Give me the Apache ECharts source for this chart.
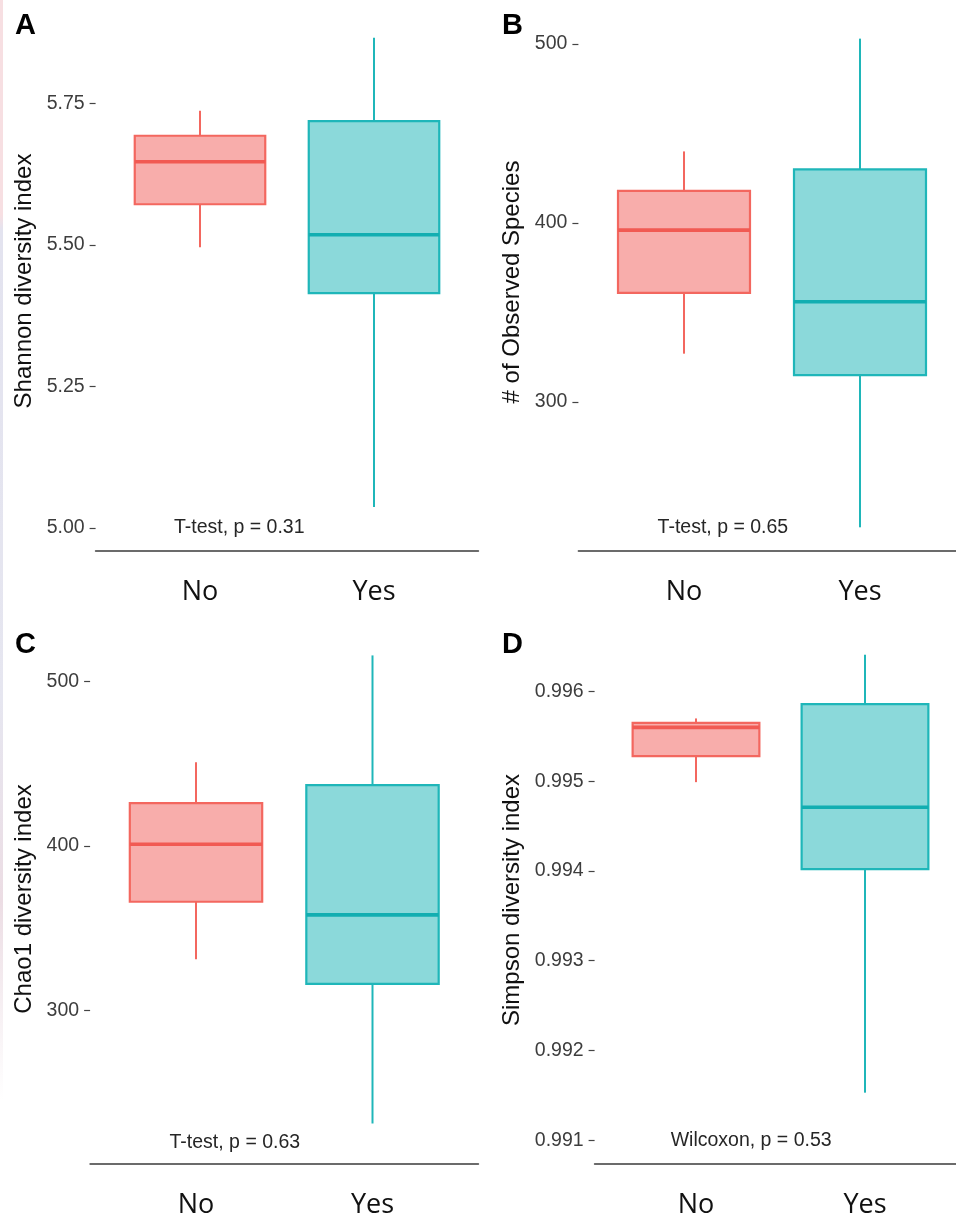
<!DOCTYPE html>
<html>
<head>
<meta charset="utf-8">
<script src="https://cdn.jsdelivr.net/npm/echarts@6/dist/echarts.min.js"></script>
<style>
  html, body { margin: 0; padding: 0; background: #fff; }
  #chart { width: 956px; height: 1219px; }
  .edge { position: absolute; left: 0; top: 0; width: 3px; height: 1219px;
          background: linear-gradient(to bottom, #f7dfe2 0px, #f7dfe2 215px, #e3e3ef 230px, #e6e6f0 700px, #ecdde4 900px, #ffffff 1100px); }
</style>
</head>
<body>
<div id="chart"></div>
<div class="edge"></div>
<script>
// Groups on the x axis
const groups = ['No', 'Yes'];

// Five-number summaries: [lower whisker, Q1, median, Q3, upper whisker]
const shannonNo  = [5.496, 5.572, 5.647, 5.693, 5.737];
const shannonYes = [5.037, 5.415, 5.518, 5.719, 5.866];
const observedNo  = [327, 361, 396, 418, 440];
const observedYes = [230, 315, 356, 430, 503];
const chao1No  = [331, 366, 401, 426, 451];
const chao1Yes = [231, 316, 358, 437, 516];
const simpsonNo  = [0.99499, 0.99528, 0.99560, 0.99565, 0.99570];
const simpsonYes = [0.99153, 0.99402, 0.99471, 0.99586, 0.99641];

// Tick labels of each y axis
const shannonTicks  = ['5.00', '5.25', '5.50', '5.75'];
const observedTicks = ['300', '400', '500'];
const chao1Ticks    = ['300', '400', '500'];
const simpsonTicks  = ['0.991', '0.992', '0.993', '0.994', '0.995', '0.996'];

// Test results printed under the boxes
const testLabels = ['T-test, p = 0.31', 'T-test, p = 0.65', 'T-test, p = 0.63', 'Wilcoxon, p = 0.53'];

const palette = [
  { line: '#F3675F', median: '#F15A53', fill: '#F8ADAB' },
  { line: '#1FB6B9', median: '#12AEB1', fill: '#8BD9DA' }
];
const BOX_WIDTH = 0.75;

const panels = [
  { letter: 'A', title: 'Shannon diversity index', no: shannonNo, yes: shannonYes, ticks: shannonTicks,
    test: testLabels[0], testY: 5.0,
    grid: { left: 95.6, width: 382.8, top: 18.6, height: 532 }, xMax: 2.6, yMin: 4.96, yMax: 5.90,
    letterPos: [15, 11], titlePos: [24, 281] },
  { letter: 'B', title: '# of Observed Species', no: observedNo, yes: observedYes, ticks: observedTicks,
    test: testLabels[1], testY: 229.6,
    grid: { left: 578.4, width: 377.6, top: 19, height: 532 }, xMax: 2.5455, yMin: 216.76, yMax: 513.97,
    letterPos: [502, 11], titlePos: [512, 282] },
  { letter: 'C', title: 'Chao1 diversity index', no: chao1No, yes: chao1Yes, ticks: chao1Ticks,
    test: testLabels[2], testY: 219.6,
    grid: { left: 90.1, width: 388.3, top: 640, height: 528 }, xMax: 2.6, yMin: 206.34, yMax: 525.38,
    letterPos: [15, 630], titlePos: [24, 899] },
  { letter: 'D', title: 'Simpson diversity index', no: simpsonNo, yes: simpsonYes, ticks: simpsonTicks,
    test: testLabels[3], testY: 0.99099,
    grid: { left: 594.6, width: 361.4, top: 640, height: 529 }, xMax: 2.5385, yMin: 0.9907351, yMax: 0.9965740,
    letterPos: [502, 630], titlePos: [512, 900] }
];

function renderBox(params, api) {
  const x = api.value(0);
  const lo = api.value(1), q1 = api.value(2), med = api.value(3), q3 = api.value(4), hi = api.value(5);
  const c = palette[params.dataIndex];
  const h = BOX_WIDTH / 2;
  const pLo = api.coord([x, lo]), pQ1 = api.coord([x, q1]);
  const pQ3 = api.coord([x, q3]), pHi = api.coord([x, hi]);
  const tl = api.coord([x - h, q3]), br = api.coord([x + h, q1]);
  const ml = api.coord([x - h, med]), mr = api.coord([x + h, med]);
  return {
    type: 'group',
    children: [
      { type: 'line', shape: { x1: pHi[0], y1: pHi[1], x2: pQ3[0], y2: pQ3[1] }, style: { stroke: c.line, lineWidth: 2 } },
      { type: 'line', shape: { x1: pQ1[0], y1: pQ1[1], x2: pLo[0], y2: pLo[1] }, style: { stroke: c.line, lineWidth: 2 } },
      { type: 'rect', shape: { x: tl[0], y: tl[1], width: br[0] - tl[0], height: br[1] - tl[1] },
        style: { fill: c.fill, stroke: c.line, lineWidth: 2.2 } },
      { type: 'line', shape: { x1: ml[0], y1: ml[1], x2: mr[0], y2: mr[1] }, style: { stroke: c.median, lineWidth: 3.6 } }
    ]
  };
}

function renderTest(text) {
  return function (params, api) {
    const p = api.coord([api.value(0), api.value(1)]);
    return {
      type: 'text', x: p[0], y: p[1],
      style: { text: text, fill: '#262626', font: '19.5px "Liberation Sans", Arial, sans-serif',
               align: 'left', verticalAlign: 'middle' }
    };
  };
}

const option = {
  animation: false,
  backgroundColor: '#ffffff',
  grid: [], xAxis: [], yAxis: [], series: [], graphic: []
};

panels.forEach(function (p, i) {
  option.grid.push(Object.assign({ containLabel: false }, p.grid));
  option.xAxis.push({
    type: 'value', gridIndex: i, min: 0.4, max: p.xMax,
    axisLine: { show: true, lineStyle: { color: '#3b3b3b', width: 1.6 } },
    axisTick: { show: false },
    splitLine: { show: false },
    axisLabel: {
      customValues: [1, 2],
      formatter: function (v) { return groups[Math.round(v) - 1]; },
      margin: 28, color: '#111', fontSize: 27, fontFamily: '"Open Sans", sans-serif'
    }
  });
  const tickVals = p.ticks.map(Number);
  option.yAxis.push({
    type: 'value', gridIndex: i, min: p.yMin, max: p.yMax,
    axisLine: { show: false },
    axisTick: { show: true, length: 6, customValues: tickVals, lineStyle: { color: '#444', width: 1.2 } },
    splitLine: { show: false },
    axisLabel: {
      customValues: tickVals,
      formatter: function (v) { const k = tickVals.indexOf(v); return k >= 0 ? p.ticks[k] : String(v); },
      margin: 11, color: '#3d3d3d', fontSize: 19.5, fontFamily: '"Liberation Sans", Arial, sans-serif'
    }
  });
  option.series.push({
    type: 'custom', xAxisIndex: i, yAxisIndex: i,
    renderItem: renderBox,
    encode: { x: 0, y: [1, 2, 3, 4, 5] },
    data: [[1].concat(p.no), [2].concat(p.yes)],
    clip: false
  });
  option.series.push({
    type: 'custom', xAxisIndex: i, yAxisIndex: i,
    renderItem: renderTest(p.test),
    encode: { x: 0, y: 1 },
    data: [[0.85, p.testY]]
  });
  option.graphic.push({
    type: 'text', left: p.letterPos[0], top: p.letterPos[1],
    style: { text: p.letter, fill: '#000', font: 'bold 29px "Liberation Sans", Arial, sans-serif' }
  });
  option.graphic.push({
    type: 'text', x: p.titlePos[0], y: p.titlePos[1], rotation: Math.PI / 2,
    style: { text: p.title, fill: '#111', font: '24px "Liberation Sans", Arial, sans-serif',
             align: 'center', verticalAlign: 'middle' }
  });
});

const chart = echarts.init(document.getElementById('chart'), null, { renderer: 'canvas' });
chart.setOption(option);
</script>
</body>
</html>
